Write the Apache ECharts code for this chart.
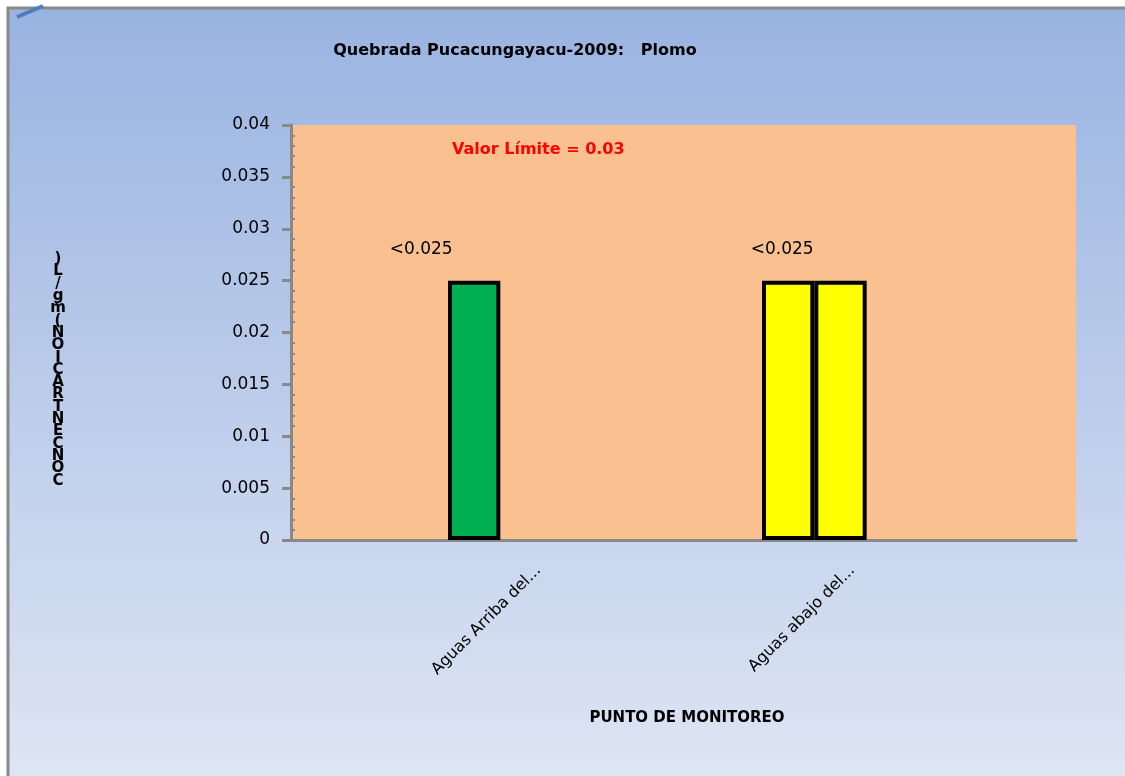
<!DOCTYPE html>
<html>
<head>
<meta charset="utf-8">
<script src="https://cdn.jsdelivr.net/npm/echarts@6/dist/echarts.min.js"></script>
<style>
html,body{margin:0;padding:0;background:#fff;}
#chart{width:1125px;height:776px;}
</style>
</head>
<body>
<div id="chart"></div>
<script>
// ---- data ----
const titleText = 'Quebrada Pucacungayacu-2009:   Plomo';
const categories = ['', 'Aguas Arriba del...', '', 'Aguas abajo del...', ''];
const serieA = [null, 0.025, null, 0.025, null];
const serieB = [null, null, null, 0.025, null];
const serieC = [null, null, null, null, null];
const pointLabels = ['', '<0.025', '', '<0.025', ''];
const yMin = 0, yMax = 0.04, yInterval = 0.005;
const limitText = 'Valor Límite = 0.03';
const xAxisTitle = 'PUNTO DE MONITOREO';
const yAxisTitle = 'CONCENTRACION (mg/L)';

// ---- styles ----
const GREEN = '#00B050', YELLOW = '#FFFF00';
const pointColorsA = [YELLOW, GREEN, YELLOW, YELLOW, YELLOW];
const labelOffsetsA = [[0,0], [-53, -18], [0,0], [-6, -18], [0,0]];
const FONT = 'DejaVu Sans';

const chart = echarts.init(document.getElementById('chart'), null, {renderer:'canvas'});

const yNameStacked = yAxisTitle.replace(' ', '').split('').reverse().join('\n');

const dataA = serieA.map((v, i) => ({
  value: v,
  itemStyle: {color: pointColorsA[i]},
  label: {show: pointLabels[i] !== '', formatter: pointLabels[i], offset: labelOffsetsA[i]}
}));

const barBase = {
  type: 'bar',
  barGap: '0%',
  barCategoryGap: '0%',
  emphasis: {disabled: true},
  animation: false
};

chart.setOption({
  backgroundColor: '#ffffff',
  animation: false,
  title: {
    text: titleText,
    left: 510, top: 38,
    textAlign: 'center',
    textStyle: {fontFamily: FONT, fontWeight: 'bold', fontSize: 16, color: '#000'}
  },
  graphic: [
    {type: 'rect', z: -100, shape: {x: 8, y: 8, width: 1130, height: 780},
     style: {fill: new echarts.graphic.LinearGradient(0,0,0,1,[{offset:0,color:'#99b3e1'},{offset:1,color:'#dfe6f4'}]),
             stroke: '#898989', lineWidth: 3}},
    {type: 'line', shape: {x1: 17, y1: 17, x2: 43, y2: 6}, style: {stroke: '#4a7ebd', lineWidth: 4}},
    {type: 'text', x: 452, y: 150, z: 10,
     style: {text: limitText, fill: '#ff0000', font: 'bold 16px "DejaVu Sans"', textVerticalAlign: 'middle'}},
    {type: 'text', x: 687, y: 718, z: 10,
     style: {text: xAxisTitle, fill: '#000', font: 'bold 15px "DejaVu Sans"', textAlign: 'center', textVerticalAlign: 'middle'}},
    {type: 'text', x: 58, y: 370, z: 10,
     style: {text: yNameStacked, fill: '#000', font: 'bold 15px "DejaVu Sans"', lineHeight: 12.3,
             textAlign: 'center', textVerticalAlign: 'middle'}}
  ],
  grid: {
    left: 291, right: 49, top: 125, bottom: 236,
    show: true, backgroundColor: '#FAC090', borderWidth: 0
  },
  xAxis: {
    type: 'category',
    data: categories,
    axisLine: {lineStyle: {color: '#898989', width: 3}},
    axisTick: {show: false},
    axisLabel: {interval: 0, rotate: 45, margin: 16, verticalAlign: 'top', lineHeight: 34,
                fontFamily: FONT, fontSize: 16, color: '#000'},
    splitLine: {show: false}
  },
  yAxis: [{
    type: 'value',
    min: yMin, max: yMax, interval: yInterval,
    axisLine: {show: true, lineStyle: {color: '#898989', width: 3}},
    axisTick: {show: true, length: 9, lineStyle: {color: '#898989', width: 3}},
    axisLabel: {margin: 21, fontFamily: FONT, fontSize: 17, color: '#000'},
    splitLine: {show: false}
  }, {
    type: 'value',
    min: yMin, max: yMax, interval: yInterval,
    position: 'left',
    axisLine: {show: false},
    axisTick: {show: false, inside: true},
    minorTick: {show: true, splitNumber: 5, length: 4, lineStyle: {color: '#898989', width: 2}},
    axisLabel: {show: false},
    splitLine: {show: false}
  }],
  series: [
    Object.assign({}, barBase, {name: 'A', data: dataA,
      itemStyle: {borderColor: '#000', borderWidth: 4},
      label: {position: 'top', distance: 5, fontFamily: FONT, fontSize: 17, color: '#000'}}),
    Object.assign({}, barBase, {name: 'B', data: serieB, itemStyle: {color: YELLOW, borderColor: '#000', borderWidth: 4}}),
    Object.assign({}, barBase, {name: 'C', data: serieC, itemStyle: {color: YELLOW, borderColor: '#000', borderWidth: 4}})
  ]
});
</script>
</body>
</html>
